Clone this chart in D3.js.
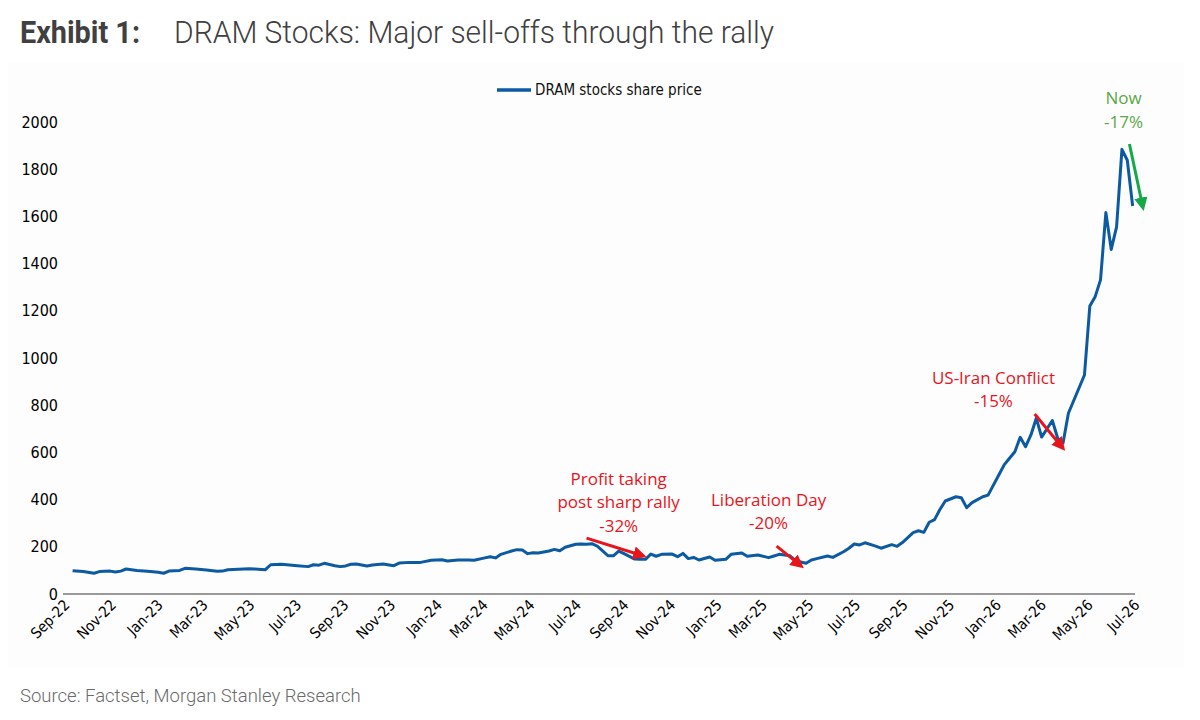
<!DOCTYPE html>
<html>
<head>
<meta charset="utf-8">
<script src="https://cdn.jsdelivr.net/npm/d3@7"></script>
<style>
  body { margin: 0; background: #fff; }
  svg { display: block; }
</style>
</head>
<body>
<div id="chart"></div>
<script>
const width = 1200, height = 720;

// weekly series, week index counted from the first observation
const seriesName = "DRAM stocks share price";
const firstWeek = "2022-09-07";
const weekIdx = [0,2,4,5,7,8,9,10,12,14,16,17,18,20,21,23,25,27,28,29,
  31,33,34,36,37,39,40,42,44,45,46,47,49,50,51,52,53,55,56,58,
  60,61,63,65,67,69,70,72,74,75,77,78,79,80,82,83,84,85,86,87,
  89,90,91,92,94,95,96,97,98,99,100,101,102,103,105,106,107,108,109,110,
  112,113,114,115,116,117,119,120,122,123,125,126,128,130,131,132,134,135,137,138,
  139,141,142,144,145,146,147,148,150,151,153,154,155,157,158,159,160,161,162,163,
  165,166,167,168,170,171,173,174,175,176,177,178,179,180,181,183,184,185,186,189,
  190,191,192,193,194,195,196,197,198];
const price = [99,95,88,95,97,93,97,106,100,96,92,88,97,100,109,106,102,96,97,103,
  105,107,106,103,124,126,124,120,116,124,122,130,120,116,119,126,127,119,123,127,
  120,131,134,134,143,145,140,144,144,143,153,158,153,168,182,188,186,171,175,174,
  182,189,183,198,211,212,211,213,203,183,162,162,182,171,148,147,147,169,160,168,
  169,158,172,150,155,144,157,143,147,168,174,160,165,154,161,168,162,141,130,144,
  150,161,155,179,194,212,208,217,203,194,209,202,218,260,268,261,304,315,358,394,
  412,408,366,387,412,419,504,547,575,603,664,624,674,745,665,735,660,640,766,928,
  1220,1260,1331,1616,1460,1556,1884,1838,1644];

const yTicks = [0,200,400,600,800,1000,1200,1400,1600,1800,2000];
const xTickLabels = ["Sep-22","Nov-22","Jan-23","Mar-23","May-23","Jul-23","Sep-23","Nov-23",
  "Jan-24","Mar-24","May-24","Jul-24","Sep-24","Nov-24","Jan-25","Mar-25","May-25","Jul-25",
  "Sep-25","Nov-25","Jan-26","Mar-26","May-26","Jul-26"];

// annotations: text lines and arrows, positions given as [week, price]
const notes = [
  {lines: ["Profit taking", "post sharp rally", "-32%"], at: [102, 463], color: "#e8141c",
   from: [96, 237], to: [106.5, 162]},
  {lines: ["Liberation Day", "-20%"], at: [130, 374], color: "#e8141c",
   from: [131.5, 203], to: [136, 120]},
  {lines: ["US-Iran Conflict", "-15%"], at: [172, 890], color: "#e8141c",
   from: [179.7, 763], to: [184.9, 620]},
  {lines: ["Now", "-17%"], at: [196.3, 2076], color: "#5aa846",
   from: [197.4, 1907], to: [199.9, 1640], arrowColor: "#14a848"}
];

const parseDay = d3.timeParse("%Y-%m-%d");
const parseTick = d3.timeParse("%b-%y");
const start = parseDay(firstWeek);
const weekDate = w => new Date(start.getTime() + w * 7 * 864e5);
const data = weekIdx.map((w, i) => ({date: weekDate(w), value: price[i]}));

const x = d3.scaleTime()
  .domain([new Date(2022, 8, 1), new Date(2026, 6, 1)])
  .range([68, 1138]);
const y = d3.scaleLinear().domain([0, 2000]).range([594, 122]);

const narrow = "Liberation Sans Narrow, Arial Narrow, DejaVu Sans Condensed, sans-serif";

const svg = d3.select("#chart").append("svg")
  .attr("width", width)
  .attr("height", height);

svg.append("rect")
  .attr("x", 8).attr("y", 62).attr("width", 1176).attr("height", 606)
  .attr("fill", "#fdfdfd");

// title
svg.append("text")
  .attr("x", 20).attr("y", 43)
  .attr("font-family", "Roboto").attr("font-weight", 700).attr("font-size", 31)
  .attr("fill", "#404040")
  .attr("textLength", 120).attr("lengthAdjust", "spacingAndGlyphs")
  .text("Exhibit 1:");
svg.append("text")
  .attr("x", 174).attr("y", 43)
  .attr("font-family", "Roboto").attr("font-weight", 300).attr("font-size", 31)
  .attr("fill", "#404040")
  .attr("textLength", 600).attr("lengthAdjust", "spacingAndGlyphs")
  .text("DRAM Stocks: Major sell-offs through the rally");

// y axis
const yAxis = svg.append("g")
  .attr("transform", "translate(63,0)")
  .call(d3.axisLeft(y).tickValues(yTicks).tickFormat(d3.format("d"))
    .tickSize(0).tickPadding(5));
yAxis.select(".domain").remove();
yAxis.selectAll("text")
  .attr("font-family", narrow)
  .attr("font-size", 16).attr("fill", "#000");

// x axis
const xAxis = svg.append("g")
  .attr("transform", "translate(0,594)")
  .call(d3.axisBottom(x)
    .tickValues(xTickLabels.map(parseTick))
    .tickFormat(d3.timeFormat("%b-%y"))
    .tickSize(0));
xAxis.select(".domain").remove();
xAxis.selectAll("text")
  .attr("font-family", narrow)
  .attr("font-size", 15).attr("fill", "#000")
  .attr("text-anchor", "end")
  .attr("dy", null).attr("y", 0)
  .attr("transform", "translate(2,12) rotate(-45)");

svg.append("line")
  .attr("x1", 63).attr("x2", 1135)
  .attr("y1", y(0)).attr("y2", y(0))
  .attr("stroke", "#9a9a9a").attr("stroke-width", 2);

// series
const line = d3.line().x(d => x(d.date)).y(d => y(d.value));
svg.append("path")
  .datum(data)
  .attr("d", line)
  .attr("fill", "none")
  .attr("stroke", "#0b5aa2")
  .attr("stroke-width", 3)
  .attr("stroke-linejoin", "round");

// legend
const legend = svg.append("g").attr("transform", "translate(497,90)");
legend.append("line").attr("x1", 0).attr("x2", 34)
  .attr("stroke", "#0b5aa2").attr("stroke-width", 3.5);
legend.append("text").attr("x", 38).attr("y", 5)
  .attr("font-family", narrow)
  .attr("font-size", 15).attr("fill", "#111")
  .text(seriesName);

// arrow heads
const defs = svg.append("defs");
notes.forEach((n, i) => {
  defs.append("marker")
    .attr("id", "arrow" + i)
    .attr("viewBox", "0 0 10 10")
    .attr("refX", 7).attr("refY", 5)
    .attr("markerWidth", 4.5).attr("markerHeight", 4.5)
    .attr("orient", "auto")
    .append("path").attr("d", "M0,0 L10,5 L0,10 Z")
    .attr("fill", n.arrowColor || n.color);
});

notes.forEach((n, i) => {
  const cx = x(weekDate(n.at[0]));
  const t = svg.append("text")
    .attr("x", cx)
    .attr("y", y(n.at[1]))
    .attr("text-anchor", "middle")
    .attr("font-family", "Open Sans, Noto Sans, sans-serif")
    .attr("font-size", 17)
    .attr("fill", n.color);
  n.lines.forEach((s, k) => {
    t.append("tspan")
      .attr("x", cx)
      .attr("dy", k === 0 ? 0 : 23.5)
      .text(s);
  });
  svg.append("line")
    .attr("x1", x(weekDate(n.from[0]))).attr("y1", y(n.from[1]))
    .attr("x2", x(weekDate(n.to[0]))).attr("y2", y(n.to[1]))
    .attr("stroke", n.arrowColor || n.color)
    .attr("stroke-width", 3)
    .attr("marker-end", `url(#arrow${i})`);
});

// source
svg.append("text")
  .attr("x", 20).attr("y", 702)
  .attr("font-family", "Roboto").attr("font-weight", 300).attr("font-size", 18.5)
  .attr("fill", "#6a6a6a")
  .text("Source: Factset, Morgan Stanley Research");
</script>
</body>
</html>
